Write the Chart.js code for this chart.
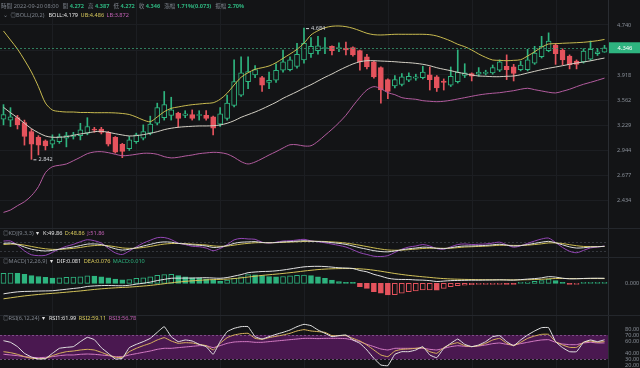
<!DOCTYPE html>
<html>
<head>
<meta charset="utf-8">
<script src="https://cdn.jsdelivr.net/npm/chart.js@4.4.1/dist/chart.umd.min.js"></script>
<style>
html, body { margin: 0; padding: 0; background: #131416; }
#wrap { position: relative; width: 640px; height: 368px; overflow: hidden; background: #131416;
        font-family: "Noto Sans", "Noto Sans CJK TC", sans-serif; }
.panel { position: absolute; left: 0; width: 640px; }
.sep { position: absolute; left: 0; width: 640px; height: 1px; background: #24272c; z-index: 2; }
.hdr { position: absolute; left: 3px; font-size: 5.6px; line-height: 7px; color: #7d838c; white-space: nowrap; z-index: 3; }
.hdr span { margin-right: 2.5px; }
.w { color: #e3e3e3; } .y { color: #d8c95c; } .p { color: #c261b4; } .gr { color: #2eb47f; }
</style>
</head>
<body>
<div id="wrap">
  <div class="panel" style="top:0;height:228px"><canvas id="cMain"></canvas></div>
  <div class="panel" style="top:228px;height:29px"><canvas id="cKdj"></canvas></div>
  <div class="panel" style="top:257px;height:58px"><canvas id="cMacd"></canvas></div>
  <div class="panel" style="top:315px;height:53px"><canvas id="cRsi"></canvas></div>
  <div class="sep" style="top:228px"></div>
  <div class="sep" style="top:257px"></div>
  <div class="sep" style="top:315px"></div>

  <div class="hdr" style="top:2.5px;left:1px">
    <span>時間 2022-09-20 08:00</span>
    <span>開 <b class="gr">4.272</b></span>
    <span>高 <b class="gr">4.387</b></span>
    <span>低 <b class="gr">4.272</b></span>
    <span>收 <b class="gr">4.346</b></span>
    <span>漲幅 <b class="gr">1.71%(0.073)</b></span>
    <span>振幅 <b class="gr">2.70%</b></span>
  </div>
  <div class="hdr" style="top:11.5px;left:3px">
    <span>⌄</span><span>◎BOLL(20,2)</span>
    <span class="w">BOLL:4.179</span><span class="y">UB:4.486</span><span class="p">LB:3.872</span>
  </div>
  <div class="hdr" style="top:229.5px">
    <span>◎KDJ(9,3,3)</span><span class="w">▾</span>
    <span class="w">K:49.86</span><span class="y">D:48.86</span><span class="p">J:51.86</span>
  </div>
  <div class="hdr" style="top:258px">
    <span>◎MACD(12,26,9)</span><span class="w">▾</span>
    <span class="w">DIF:0.081</span><span class="y">DEA:0.076</span><span class="gr">MACD:0.010</span>
  </div>
  <div class="hdr" style="top:315px">
    <span>◎RSI(6,12,24)</span><span class="w">▾</span>
    <span class="w">RSI1:61.99</span><span class="y">RSI2:59.11</span><span class="p">RSI3:56.78</span>
  </div>
</div>

<script>
// Candles (oldest -> newest, last one is 2022-09-20 08:00)
const opens = [3.31,3.30,3.33,3.27,3.16,3.09,3.05,3.01,3.04,3.08, 3.10,3.11,3.14,3.19,3.19,3.15,3.09,3.01,2.96,3.04,
  3.08,3.14,3.26,3.33,3.36,3.39,3.36,3.37,3.36,3.36, 3.34,3.25,3.32,3.49,3.63,3.82,3.92,3.88,3.81,3.84,
  3.99,4.00,4.05,4.15,4.25,4.30,4.33,4.37,4.33,4.34, 4.35,4.30,4.20,4.12,4.03,3.85,3.76,3.78,3.84,3.87,
  3.88,3.92,3.89,3.83,3.77,3.82,3.91,3.94,3.93,3.94, 3.95,3.99,4.05,4.04,4.00,4.00,4.10,4.20,4.30,4.39,
  4.31,4.21,4.13,4.12,4.16,4.25,4.272];
const highs = [3.50,3.46,3.36,3.30,3.19,3.11,3.06,3.12,3.13,3.15, 3.15,3.26,3.33,3.21,3.21,3.16,3.10,3.02,3.10,3.14,
  3.24,3.35,3.52,3.68,3.60,3.40,3.42,3.43,3.42,3.42, 3.35,3.46,3.63,4.15,4.20,4.20,4.06,3.90,3.96,4.09,
  4.31,4.20,4.42,4.684,4.52,4.54,4.52,4.38,4.43,4.44, 4.36,4.31,4.24,4.13,4.04,3.86,3.91,3.94,3.95,3.93,
  4.05,4.04,3.91,3.86,4.04,4.31,4.09,3.95,4.03,3.99, 4.07,4.15,4.23,4.08,4.13,4.32,4.37,4.54,4.60,4.42,
  4.33,4.23,4.15,4.33,4.46,4.33,4.387];
const lows = [3.24,3.22,3.19,3.00,2.842,2.89,2.945,2.97,3.02,2.98, 3.07,3.06,3.12,3.15,3.13,2.99,2.91,2.86,2.94,3.02,
  3.06,3.12,3.24,3.30,3.30,3.21,3.33,3.30,3.30,3.30, 3.12,3.22,3.30,3.47,3.61,3.72,3.88,3.68,3.72,3.81,
  3.96,3.98,4.02,4.10,4.19,4.24,4.25,4.23,4.28,4.23, 4.21,3.99,4.01,3.87,3.52,3.58,3.73,3.76,3.82,3.84,
  3.86,3.70,3.68,3.70,3.75,3.80,3.88,3.83,3.90,3.92, 3.93,3.97,3.85,3.83,3.98,3.98,4.08,4.18,4.28,4.08,
  4.07,4.01,4.01,4.10,4.14,4.22,4.272];
const closes = [3.37,3.34,3.24,3.10,3.01,3.00,2.99,3.06,3.10,3.11, 3.12,3.18,3.22,3.175,3.15,3.01,2.92,2.93,3.06,3.12,
  3.16,3.25,3.46,3.50,3.43,3.32,3.38,3.32,3.37,3.32, 3.20,3.38,3.52,3.82,3.95,3.97,4.00,3.77,3.84,3.99,
  4.12,4.15,4.24,4.42,4.37,4.38,4.35,4.30,4.35,4.31, 4.23,4.12,4.04,3.89,3.70,3.68,3.85,3.89,3.90,3.89,
  3.96,3.85,3.73,3.81,3.90,3.96,3.95,3.90,3.96,3.96, 4.03,4.12,4.00,3.94,4.07,4.15,4.26,4.37,4.46,4.25,
  4.15,4.07,4.08,4.29,4.32,4.28,4.346];

// BOLL(20,2)
const bollUp = [4.633,4.477,4.325,4.148,3.963,3.748,3.522,3.429,3.410,3.403, 3.403,3.397,3.397,3.394,3.394,3.394,3.391,3.384,3.371,3.339,
  3.301,3.280,3.339,3.407,3.451,3.469,3.486,3.499,3.508,3.517, 3.525,3.572,3.655,3.772,3.884,3.952,4.004,4.028,4.055,4.106,
  4.175,4.244,4.321,4.421,4.563,4.638,4.691,4.717,4.722,4.710, 4.681,4.638,4.593,4.568,4.563,4.568,4.575,4.575,4.575,4.575,
  4.575,4.568,4.546,4.506,4.460,4.404,4.364,4.309,4.244,4.190, 4.148,4.143,4.137,4.143,4.153,4.212,4.281,4.354,4.409,4.414,
  4.421,4.426,4.431,4.438,4.450,4.465,4.486];
const bollMid = [3.464,3.394,3.330,3.260,3.194,3.145,3.106,3.091,3.091,3.098, 3.114,3.130,3.142,3.157,3.162,3.150,3.133,3.118,3.106,3.110,
  3.122,3.138,3.157,3.182,3.199,3.211,3.218,3.223,3.227,3.227, 3.230,3.239,3.260,3.292,3.335,3.369,3.403,3.442,3.486,3.531,
  3.585,3.631,3.677,3.729,3.776,3.830,3.884,3.933,3.988,4.039, 4.086,4.121,4.137,4.137,4.132,4.127,4.121,4.112,4.106,4.096,
  4.081,4.059,4.028,4.004,3.983,3.958,3.938,3.918,3.903,3.899, 3.893,3.893,3.899,3.903,3.922,3.948,3.973,3.998,4.020,4.039,
  4.059,4.081,4.101,4.117,4.135,4.158,4.179];
const bollLow = [2.322,2.343,2.382,2.418,2.474,2.561,2.701,2.763,2.778,2.792, 2.827,2.864,2.904,2.923,2.926,2.915,2.897,2.881,2.886,2.897,
  2.908,2.908,2.897,2.871,2.857,2.864,2.878,2.889,2.904,2.912, 2.919,2.915,2.900,2.864,2.817,2.792,2.813,2.849,2.889,2.926,
  2.967,3.004,3.004,2.990,2.993,3.044,3.114,3.186,3.267,3.361, 3.482,3.599,3.701,3.748,3.719,3.663,3.635,3.594,3.580,3.572,
  3.553,3.545,3.539,3.545,3.558,3.576,3.594,3.613,3.631,3.645, 3.655,3.663,3.677,3.691,3.711,3.725,3.705,3.687,3.669,3.659,
  3.683,3.711,3.748,3.782,3.810,3.840,3.872];

// KDJ(9,3,3)
const kLine = [70,72,62,45,30,22,18,22,30,38, 45,55,65,66,62,48,33,24,30,40, 52,63,75,80,78,70,66,60,57,52,
  42,45,55,70,78,80,82,76,74,76, 80,82,85,88,85,83,80,75,70,63, 52,40,30,20,14,12,18,26,33,38,
  44,42,36,34,40,48,52,52,54,56, 60,64,58,52,55,62,70,78,84,74, 60,46,38,40,45,47,49.86];
const dLine = [62,65,64,58,49,40,33,29,29,32, 36,42,50,55,57,54,47,39,36,37, 42,49,58,65,69,69,68,65,62,59,
  53,50,52,58,65,70,74,75,75,75, 77,79,81,83,84,84,83,80,77,72, 65,57,48,39,31,25,23,24,27,31,
  35,37,37,36,37,41,45,47,49,51, 54,57,57,56,56,58,62,67,73,73, 69,61,54,49,48,48,48.86];
const jLine = [86,86,58,19,-8,-14,-12,8,32,50, 63,81,95,88,72,36,5,-6,18,46, 72,91,109,110,96,72,62,50,47,38,
  20,35,61,94,104,100,98,78,72,78, 86,88,93,98,87,81,74,65,56,45, 26,6,-6,-18,-20,-14,8,30,45,52,
  62,52,34,30,46,62,66,62,64,66, 72,78,60,44,53,70,86,100,106,76, 42,16,6,22,39,45,51.86];

// MACD(12,26,9)
const difLine = [-0.170,-0.152,-0.138,-0.131,-0.129,-0.125,-0.123,-0.120,-0.108,-0.096, -0.083,-0.071,-0.051,-0.042,-0.037,-0.035,-0.038,-0.040,-0.031,-0.013,
  0.001,0.019,0.044,0.063,0.081,0.083,0.084,0.085,0.088,0.090, 0.085,0.081,0.093,0.116,0.140,0.171,0.182,0.190,0.193,0.201,
  0.214,0.231,0.249,0.265,0.272,0.274,0.270,0.261,0.250,0.246, 0.239,0.206,0.185,0.144,0.115,0.082,0.066,0.062,0.061,0.054,
  0.051,0.043,0.029,0.036,0.043,0.046,0.048,0.050,0.050,0.052, 0.053,0.055,0.053,0.051,0.059,0.068,0.076,0.088,0.107,0.100,
  0.082,0.072,0.073,0.078,0.081,0.082,0.081];
const deaLine = [-0.250,-0.234,-0.218,-0.203,-0.191,-0.180,-0.170,-0.162,-0.153,-0.143, -0.133,-0.123,-0.111,-0.099,-0.089,-0.080,-0.073,-0.067,-0.061,-0.053,
  -0.044,-0.034,-0.021,-0.007,0.008,0.020,0.031,0.040,0.048,0.055, 0.060,0.063,0.068,0.076,0.087,0.101,0.114,0.127,0.138,0.148,
  0.159,0.171,0.184,0.198,0.210,0.221,0.229,0.234,0.237,0.238, 0.238,0.233,0.225,0.211,0.195,0.176,0.158,0.142,0.128,0.116,
  0.105,0.095,0.084,0.076,0.070,0.066,0.063,0.061,0.059,0.058, 0.057,0.057,0.056,0.055,0.056,0.058,0.061,0.065,0.072,0.077,
  0.078,0.077,0.076,0.076,0.077,0.077,0.076];
const macdHist = [0.160,0.165,0.160,0.145,0.125,0.110,0.095,0.085,0.090,0.095, 0.100,0.105,0.120,0.115,0.105,0.090,0.070,0.055,0.060,0.080,
  0.090,0.105,0.130,0.140,0.145,0.125,0.105,0.090,0.080,0.070, 0.050,0.035,0.050,0.080,0.105,0.140,0.135,0.125,0.110,0.105,
  0.110,0.120,0.130,0.134,0.123,0.106,0.081,0.053,0.026,0.015, 0.002,-0.054,-0.081,-0.135,-0.161,-0.189,-0.185,-0.161,-0.135,-0.124,
  -0.108,-0.105,-0.110,-0.081,-0.054,-0.040,-0.030,-0.022,-0.018,-0.012, -0.008,-0.004,-0.006,-0.008,0.006,0.020,0.030,0.045,0.070,0.045,
  0.008,-0.010,-0.006,0.004,0.008,0.009,0.010];

// RSI(6,12,24)
const rsi1 = [60.5,57.8,50.6,39.4,33.3,30,30.6,39.4,47.8,49.4, 50.6,58.9,66.1,62.2,48.9,39.4,30,31.1,48.9,54.4,
  58.9,64.4,74.4,83.9,67.2,58.9,61.7,60,54.4,50.6, 37.8,58.9,75.6,81.1,83.9,83.9,67.2,63.3,67.2,71.1,
  74.4,78.3,83.9,87.8,85.6,78.3,72.8,67.2,68.9,70, 61.7,56.1,45,31.1,20,18.9,37.8,42.2,42.2,45,
  50.6,36.7,32.2,47.8,56.1,63.3,54.4,50.6,53.3,58.9, 67.2,68.9,58.9,52.2,61.7,70,76.7,82.2,82.2,58.9,
  48.9,42.2,42.2,57.8,61.7,58.9,61.99];
const rsi2 = [42.2,40.6,37.8,33.9,31.1,30.6,31.1,35.6,39.4,42.2, 43.3,45,46.1,45,41.1,36.7,32.8,32.8,42.2,47.8,
  52.2,56.1,61.7,65.6,60,56.1,57.2,56.7,54.4,52.2, 45,56.1,65.6,70,72.2,72.8,64.4,62.8,65.6,67.8,
  70,72.8,76.7,78.9,76.7,75.6,74.4,68.9,68.9,68.9, 64.4,60,53.3,45,36.7,33.9,43.3,46.1,46.7,47.8,
  48.9,42.2,39.4,48.9,54.4,57.2,52.2,50.6,52.2,56.1, 61.7,64.4,56.1,52.2,57.8,64.4,68.3,71.1,71.1,58.9,
  53.3,49.4,49.4,57.8,60,57.8,59.11];
const rsi3 = [37.8,36.7,35.6,33.9,32.8,32.2,32.8,33.9,35.6,36.7, 36.7,37.8,38.3,37.8,36.7,35.6,33.9,33.9,36.7,38.9,
  41.1,43.3,46.1,47.8,47.8,48.9,50,51.1,52.2,52.2, 48.9,52.2,56.1,58.3,58.9,58.9,57.8,57.8,58.9,60,
  61.1,62.2,63.3,64.4,64.4,63.9,64.4,64.4,64.4,63.9, 61.7,58.9,54.4,50.6,46.7,45,47.8,47.8,47.8,47.8,
  47.8,46.1,45,47.8,50.6,52.2,51.1,50.6,51.7,53.3, 55.6,56.7,54.4,53.3,55.6,57.8,60,61.7,62.2,57.8,
  55,53.9,53.9,56.7,57.8,56.7,56.78];

// Axis ticks and reference levels
const priceTicks = [2.434, 2.677, 2.944, 3.229, 3.562, 3.918, 4.309, 4.740];
const macdTicks = [0];
const rsiTicks = [20, 30, 40, 60, 70, 80];
const kdjLevels = [80, 20];
const rsiBand = [30, 70];

const candleIdx = closes.map((_, i) => String(i));

const GREEN = '#2eb47f', RED = '#e5535d', BG = '#131416';
const GRID = '#1c1e22', AXIS = '#2a2d32', TXT = '#878d96';
const FONT = '"Noto Sans", "Noto Sans CJK TC", sans-serif';
Chart.defaults.font.family = FONT;

const isUp = i => closes[i] >= opens[i];

// vertical grid every 12 bars
const vGrid = {
  id: 'vGrid',
  beforeDraw(chart) {
    const { ctx, chartArea: a, scales: { x } } = chart;
    ctx.save();
    ctx.strokeStyle = GRID;
    ctx.lineWidth = 1;
    for (let i = 7; i < candleIdx.length; i += 12) {
      const px = Math.round(x.getPixelForValue(i)) + 0.5;
      ctx.beginPath(); ctx.moveTo(px, a.top); ctx.lineTo(px, a.bottom); ctx.stroke();
    }
    ctx.restore();
  }
};

function fitRight(s) {
  s.width = 32;
  s.paddingTop = 0;
  s.paddingBottom = 0;
}

const baseOpts = {
  animation: false,
  responsive: true,
  maintainAspectRatio: false,
  events: [],
  layout: { padding: 0 },
  plugins: { legend: { display: false }, tooltip: { enabled: false } }
};

const lineDs = (label, data, color, extra) => Object.assign({
  type: 'line', label, data, borderColor: color, borderWidth: 1,
  pointRadius: 0, tension: 0.3, fill: false, order: -1
}, extra || {});

// ---- main price panel
const mainDecor = {
  id: 'mainDecor',
  afterDatasetsDraw(chart) {
    const { ctx, chartArea: a, scales: { x, y } } = chart;
    const last = closes[closes.length - 1];
    const py = Math.round(y.getPixelForValue(last)) + 0.5;
    ctx.save();
    ctx.setLineDash([2, 2]);
    ctx.strokeStyle = 'rgba(58,160,118,0.75)';
    ctx.lineWidth = 1;
    ctx.beginPath(); ctx.moveTo(a.left, py); ctx.lineTo(a.right, py); ctx.stroke();
    ctx.setLineDash([]);

    // highest high / lowest low markers
    const hi = highs.indexOf(Math.max(...highs));
    const lo = lows.indexOf(Math.min(...lows));
    ctx.fillStyle = '#d2d5da';
    ctx.strokeStyle = '#d2d5da';
    ctx.font = '5.6px ' + FONT;
    ctx.textBaseline = 'middle';
    [[hi, highs[hi]], [lo, lows[lo]]].forEach(([i, v]) => {
      const px = x.getPixelForValue(i);
      const vy = y.getPixelForValue(v);
      ctx.beginPath(); ctx.moveTo(px + 2, vy + 0.5); ctx.lineTo(px + 5, vy + 0.5); ctx.stroke();
      ctx.fillText(v.toFixed(3), px + 7, vy + 0.5);
    });
    ctx.restore();
  },
  afterDraw(chart) {
    const { ctx, chartArea: a, scales: { y } } = chart;
    const last = closes[closes.length - 1];
    const py = y.getPixelForValue(last);
    ctx.save();
    ctx.fillStyle = '#2eb47f';
    ctx.fillRect(a.right + 1, py - 5.5, chart.width - a.right - 1, 11);
    ctx.fillStyle = '#ffffff';
    ctx.font = '5.8px ' + FONT;
    ctx.textBaseline = 'middle';
    ctx.textAlign = 'center';
    ctx.fillText(last.toFixed(3), (a.right + chart.width) / 2 + 1, py + 0.5);
    ctx.restore();
  }
};

new Chart(document.getElementById('cMain'), {
  type: 'bar',
  data: {
    labels: candleIdx,
    datasets: [
      {
        label: 'body',
        data: opens.map((o, i) => [o, closes[i]]),
        backgroundColor: c => isUp(c.dataIndex) ? BG : RED,
        borderColor: c => isUp(c.dataIndex) ? GREEN : RED,
        borderWidth: 1, borderSkipped: false, barThickness: 5, grouped: false, order: 1
      },
      {
        label: 'wick',
        data: lows.map((l, i) => [l, highs[i]]),
        backgroundColor: c => isUp(c.dataIndex) ? GREEN : RED,
        borderWidth: 0, barThickness: 1, grouped: false, order: 2
      },
      lineDs('UB', bollUp, '#c9bb50'),
      lineDs('BOLL', bollMid, '#d3cfc4'),
      lineDs('LB', bollLow, '#b35c9f')
    ]
  },
  options: Object.assign({}, baseOpts, {
    scales: {
      x: { type: 'category', offset: true, display: false },
      y: {
        type: 'logarithmic', position: 'right', min: 2.188, max: 5.213,
        afterFit: fitRight,
        afterBuildTicks: s => { s.ticks = priceTicks.map(v => ({ value: v })); },
        border: { display: true, color: AXIS },
        grid: { color: GRID, drawTicks: false },
        ticks: { color: TXT, font: { size: 5.6 }, padding: 9, autoSkip: false,
                 callback: v => Number(v).toFixed(3) }
      }
    }
  }),
  plugins: [vGrid, mainDecor]
});

// ---- dashed level lines for sub panels
function levelLines(levels, color, band) {
  return {
    id: 'levels',
    beforeDatasetsDraw(chart) {
      const { ctx, chartArea: a, scales: { y } } = chart;
      ctx.save();
      if (band) {
        const y1 = y.getPixelForValue(band[1]), y0 = y.getPixelForValue(band[0]);
        ctx.fillStyle = '#4a1850';
        ctx.fillRect(a.left, y1, a.right - a.left, y0 - y1);
      }
      ctx.setLineDash([2, 2]);
      ctx.strokeStyle = color;
      ctx.lineWidth = 1;
      levels.forEach(v => {
        const py = Math.round(y.getPixelForValue(v)) + 0.5;
        ctx.beginPath(); ctx.moveTo(a.left, py); ctx.lineTo(a.right, py); ctx.stroke();
      });
      ctx.restore();
    }
  };
}

const subY = (min, max, extra) => Object.assign({
  position: 'right', min, max,
  afterFit: fitRight,
  border: { display: true, color: AXIS },
  grid: { display: false },
  ticks: { display: false }
}, extra || {});

// ---- KDJ
new Chart(document.getElementById('cKdj'), {
  type: 'line',
  data: {
    labels: candleIdx,
    datasets: [
      lineDs('K', kLine, '#dcdcdc'),
      lineDs('D', dLine, '#cdbd52'),
      lineDs('J', jLine, '#9447b5')
    ]
  },
  options: Object.assign({}, baseOpts, {
    scales: {
      x: { type: 'category', offset: true, display: false },
      y: subY(-23.3, 175.3)
    }
  }),
  plugins: [vGrid, levelLines(kdjLevels, '#34373d')]
});

// ---- MACD
new Chart(document.getElementById('cMacd'), {
  type: 'bar',
  data: {
    labels: candleIdx,
    datasets: [
      {
        label: 'MACD',
        data: macdHist,
        backgroundColor: c => {
          const i = c.dataIndex, v = macdHist[i];
          const rising = i === 0 || v >= macdHist[i - 1];
          return rising ? BG : (v >= 0 ? GREEN : RED);
        },
        borderColor: c => macdHist[c.dataIndex] >= 0 ? GREEN : RED,
        borderWidth: 1, borderSkipped: false, barThickness: 5, minBarLength: 1, order: 1
      },
      lineDs('DIF', difLine, '#e2e2e2'),
      lineDs('DEA', deaLine, '#d3c35a')
    ]
  },
  options: Object.assign({}, baseOpts, {
    scales: {
      x: { type: 'category', offset: true, display: false },
      y: subY(-0.511, 0.424, {
        afterBuildTicks: s => { s.ticks = macdTicks.map(v => ({ value: v })); },
        ticks: { display: true, color: TXT, font: { size: 5.6 }, padding: 9, autoSkip: false,
                 callback: v => Number(v).toFixed(3) }
      })
    }
  }),
  plugins: [vGrid]
});

// ---- RSI
new Chart(document.getElementById('cRsi'), {
  type: 'line',
  data: {
    labels: candleIdx,
    datasets: [
      lineDs('RSI1', rsi1, '#e2e2e2', { tension: 0.1 }),
      lineDs('RSI2', rsi2, '#d9b45e', { tension: 0.1 }),
      lineDs('RSI3', rsi3, '#d47bc4', { tension: 0.1 })
    ]
  },
  options: Object.assign({}, baseOpts, {
    scales: {
      x: { type: 'category', offset: true, display: false },
      y: subY(15, 103.3, {
        afterBuildTicks: s => { s.ticks = rsiTicks.map(v => ({ value: v })); },
        ticks: { display: true, color: TXT, font: { size: 5.6 }, padding: 9, autoSkip: false,
                 callback: v => Number(v).toFixed(2) }
      })
    }
  }),
  plugins: [vGrid, levelLines(rsiBand, 'rgba(150,100,160,0.7)', rsiBand)]
});
</script>
</body>
</html>
